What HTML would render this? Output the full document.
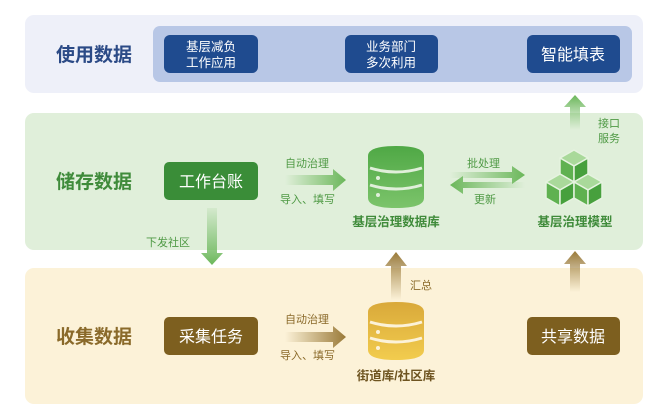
<!DOCTYPE html>
<html><head><meta charset="utf-8"><style>
body{margin:0;width:655px;height:414px;background:#fff;overflow:hidden;font-family:"Liberation Sans","Noto Sans CJK SC",sans-serif;}
svg text{font-family:"Liberation Sans","Noto Sans CJK SC",sans-serif;}
</style></head><body>
<svg width="655" height="414" viewBox="0 0 655 414" xmlns="http://www.w3.org/2000/svg">
<defs>
<linearGradient id="gR" x1="0" x2="1"><stop offset="0" stop-color="#6bb75a" stop-opacity="0"/><stop offset="1" stop-color="#6bb75a"/></linearGradient>
<linearGradient id="gL" x1="1" x2="0"><stop offset="0" stop-color="#6bb75a" stop-opacity="0"/><stop offset="1" stop-color="#6bb75a"/></linearGradient>
<linearGradient id="gU" x1="0" y1="1" x2="0" y2="0"><stop offset="0" stop-color="#6bb75a" stop-opacity="0"/><stop offset="1" stop-color="#6bb75a"/></linearGradient>
<linearGradient id="gD" x1="0" y1="0" x2="0" y2="1"><stop offset="0" stop-color="#6bb75a" stop-opacity="0.1"/><stop offset="1" stop-color="#6bb75a"/></linearGradient>
<linearGradient id="yR" x1="0" x2="1"><stop offset="0" stop-color="#9a7a38" stop-opacity="0"/><stop offset="1" stop-color="#9a7a38"/></linearGradient>
<linearGradient id="yU" x1="0" y1="1" x2="0" y2="0"><stop offset="0" stop-color="#9a7a38" stop-opacity="0"/><stop offset="1" stop-color="#9a7a38"/></linearGradient>
<linearGradient id="dbG" x1="0" y1="0" x2="0" y2="1"><stop offset="0" stop-color="#4fa845"/><stop offset="1" stop-color="#7cc46b"/></linearGradient>
<linearGradient id="dbY" x1="0" y1="0" x2="0" y2="1"><stop offset="0" stop-color="#d9a93a"/><stop offset="1" stop-color="#f2cc4e"/></linearGradient>
</defs>
<rect x="25" y="15" width="618" height="78" rx="9" fill="#eef0f9"/>
<rect x="153" y="26" width="479" height="56" rx="7" fill="#b8c7e6"/>
<rect x="25" y="113" width="618" height="137" rx="9" fill="#e0efda"/>
<rect x="25" y="268" width="618" height="136" rx="9" fill="#fcf2d8"/>
<text x="56" y="61" font-size="19" font-weight="bold" fill="#2b4a86">使用数据</text>
<text x="56" y="188" font-size="19" font-weight="bold" fill="#3f8b3a">储存数据</text>
<text x="56" y="343" font-size="19" font-weight="bold" fill="#8a6a2a">收集数据</text>
<rect x="164" y="35" width="94" height="38" rx="6" fill="#1f4b8f"/>
<text x="211" y="51" font-size="12.5" fill="#fff" text-anchor="middle">基层减负</text>
<text x="211" y="67" font-size="12.5" fill="#fff" text-anchor="middle">工作应用</text>
<rect x="345" y="35" width="93" height="38" rx="6" fill="#1f4b8f"/>
<text x="391" y="51" font-size="12.5" fill="#fff" text-anchor="middle">业务部门</text>
<text x="391" y="67" font-size="12.5" fill="#fff" text-anchor="middle">多次利用</text>
<rect x="527" y="35" width="93" height="38" rx="6" fill="#1f4b8f"/>
<text x="573" y="60" font-size="16" fill="#fff" text-anchor="middle">智能填表</text>
<rect x="164" y="162" width="94" height="38" rx="5" fill="#3a8d38"/>
<text x="211" y="187" font-size="16" fill="#fff" text-anchor="middle">工作台账</text>
<rect x="164" y="317" width="94" height="38" rx="5" fill="#7d5f1f"/>
<text x="211" y="342" font-size="16" fill="#fff" text-anchor="middle">采集任务</text>
<rect x="527" y="317" width="93" height="38" rx="5" fill="#7d5f1f"/>
<text x="573" y="342" font-size="16" fill="#fff" text-anchor="middle">共享数据</text>
<text x="285" y="167" font-size="11" fill="#4f9a45">自动治理</text>
<path d="M285 175 H333 V169 L346 180 L333 191 V185 H285Z" fill="url(#gR)"/>
<text x="280" y="203" font-size="11" fill="#4f9a45">导入、填写</text>
<text x="467" y="167" font-size="11" fill="#4f9a45">批处理</text>
<path d="M450 172 H512 V166 L525 175 L512 184 V178 H450Z" fill="url(#gR)"/>
<path d="M525 182 H463 V176 L450 185 L463 194 V188 H525Z" fill="url(#gL)"/>
<text x="474" y="203" font-size="11" fill="#4f9a45">更新</text>
<path d="M570 130 V107 H564 L575 95 L586 107 H580 V130Z" fill="url(#gU)"/>
<text x="598" y="127" font-size="11" fill="#4f9a45">接口</text>
<text x="598" y="142" font-size="11" fill="#4f9a45">服务</text>
<path d="M207 208 V253 H201 L212 265 L223 253 H217 V208Z" fill="url(#gD)"/>
<text x="146" y="246" font-size="11" fill="#4f9a45">下发社区</text>
<g>
<path d="M368 156 Q368 146 396 146 Q424 146 424 156 V198 Q424 208 396 208 Q368 208 368 198Z" fill="url(#dbG)"/>
<path d="M370 168 Q396 176 422 168" stroke="#e0efda" stroke-width="3" fill="none"/>
<path d="M370 185 Q396 193 422 185" stroke="#e0efda" stroke-width="3" fill="none"/>
<circle cx="378" cy="178" r="2" fill="#e0efda"/><circle cx="378" cy="195" r="2" fill="#e0efda"/>
</g>
<text x="396" y="226" font-size="12.5" font-weight="bold" fill="#3f8b3a" text-anchor="middle">基层治理数据库</text>
<!-- cubes -->
<g stroke="#e6f3e0" stroke-width="1.5" stroke-linejoin="round">
<g transform="translate(574,150)">
<path d="M0 0 L14 8 L0 16 L-14 8Z" fill="#a9d99a"/><path d="M-14 8 L0 16 L0 32 L-14 24Z" fill="#5fb150"/><path d="M0 16 L14 8 L14 24 L0 32Z" fill="#47a03d"/>
</g>
<g transform="translate(560,174)">
<path d="M0 0 L14 8 L0 16 L-14 8Z" fill="#a9d99a"/><path d="M-14 8 L0 16 L0 32 L-14 24Z" fill="#5fb150"/><path d="M0 16 L14 8 L14 24 L0 32Z" fill="#47a03d"/>
</g>
<g transform="translate(588,174)">
<path d="M0 0 L14 8 L0 16 L-14 8Z" fill="#a9d99a"/><path d="M-14 8 L0 16 L0 32 L-14 24Z" fill="#5fb150"/><path d="M0 16 L14 8 L14 24 L0 32Z" fill="#47a03d"/>
</g>
</g>
<text x="575" y="226" font-size="12.5" font-weight="bold" fill="#3f8b3a" text-anchor="middle">基层治理模型</text>
<path d="M391 300 V266 H385 L396 252 L407 266 H401 V300Z" fill="url(#yU)"/>
<text x="410" y="289" font-size="11" fill="#8a6a2a">汇总</text>
<path d="M570 292 V264 H564 L575 251 L586 264 H580 V292Z" fill="url(#yU)"/>
<text x="285" y="323" font-size="11" fill="#8a6a2a">自动治理</text>
<path d="M285 332 H333 V326 L346 337 L333 348 V342 H285Z" fill="url(#yR)"/>
<text x="280" y="359" font-size="11" fill="#8a6a2a">导入、填写</text>
<g>
<path d="M368 312 Q368 302 396 302 Q424 302 424 312 V350 Q424 360 396 360 Q368 360 368 350Z" fill="url(#dbY)"/>
<path d="M370 322 Q396 330 422 322" stroke="#fcf2d8" stroke-width="3" fill="none"/>
<path d="M370 338 Q396 346 422 338" stroke="#fcf2d8" stroke-width="3" fill="none"/>
<circle cx="378" cy="332" r="2" fill="#fcf2d8"/><circle cx="378" cy="348" r="2" fill="#fcf2d8"/>
</g>
<text x="396" y="380" font-size="12.5" font-weight="bold" fill="#6e5420" text-anchor="middle">街道库/社区库</text>
</svg>
</body></html>
